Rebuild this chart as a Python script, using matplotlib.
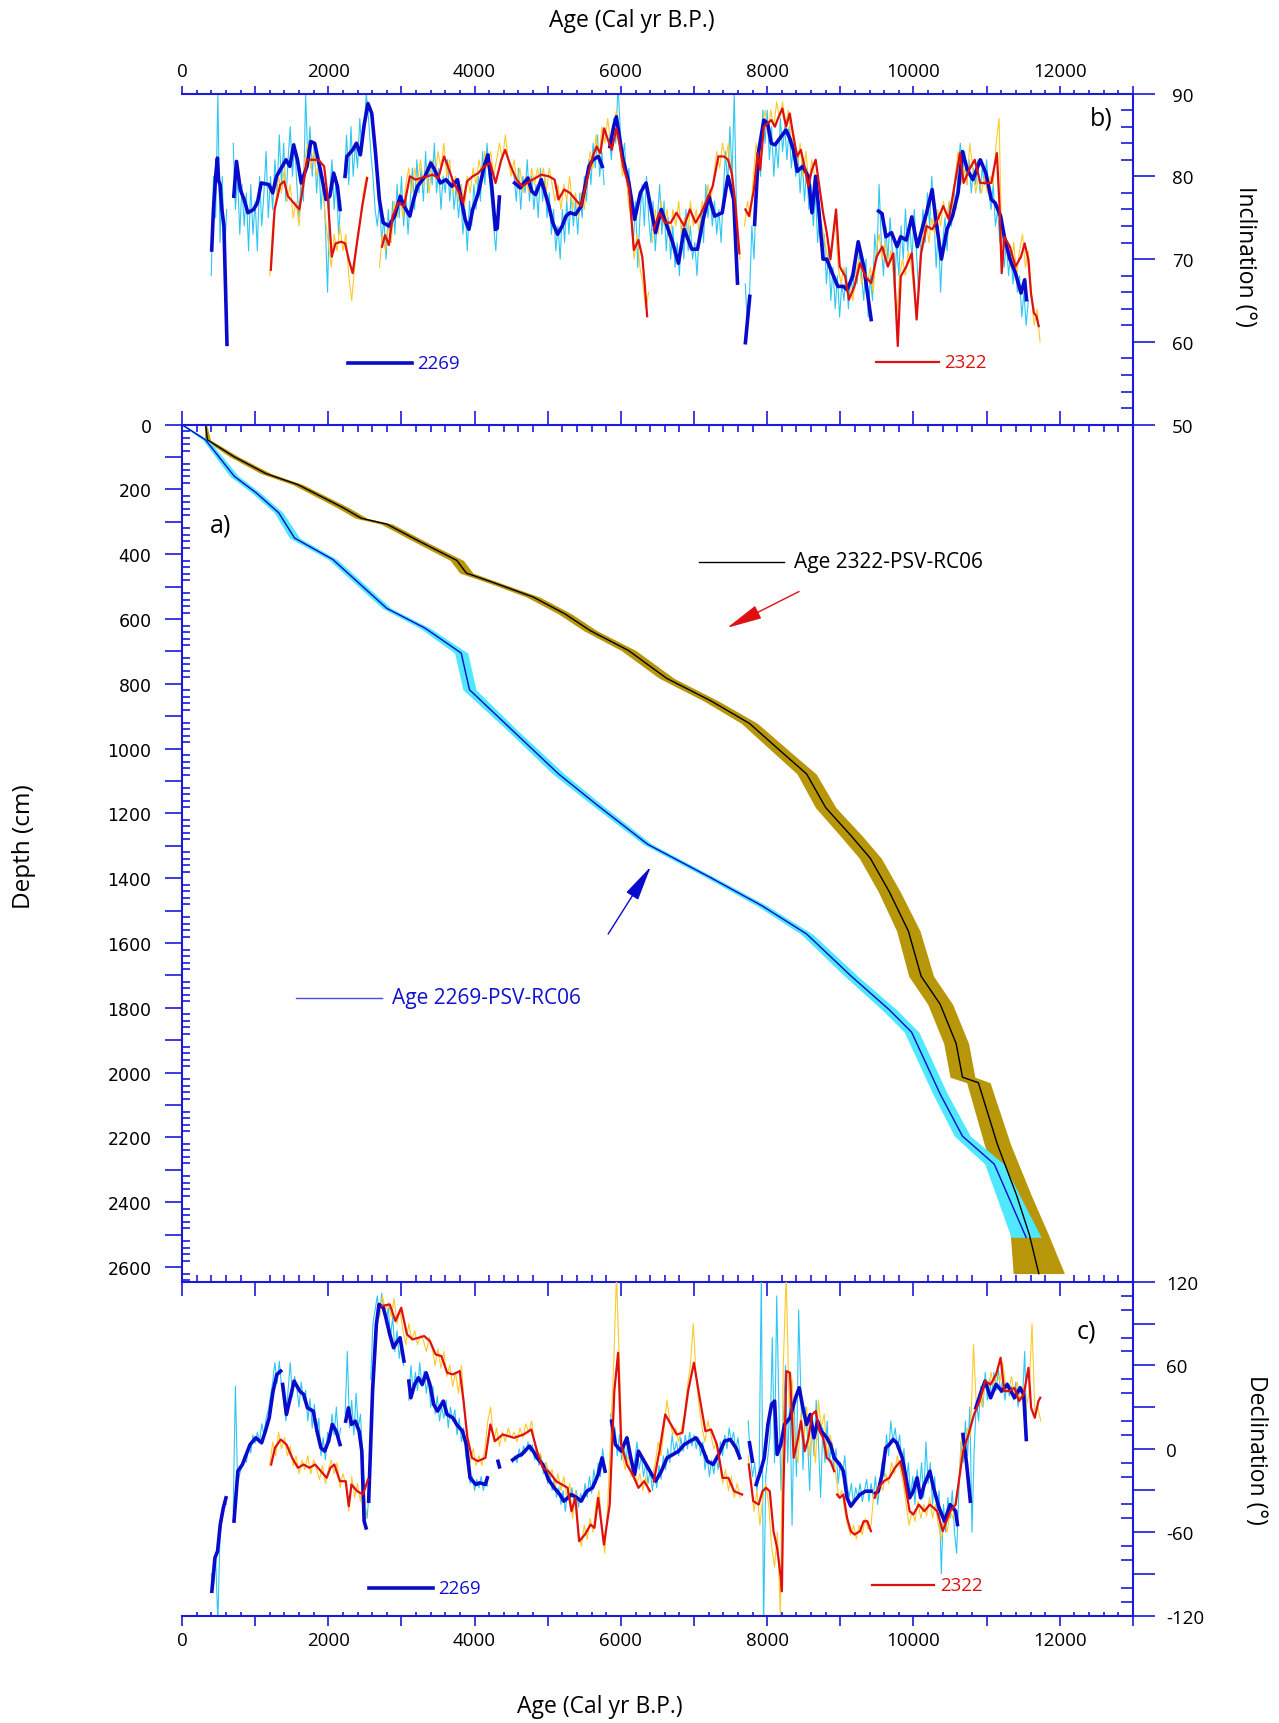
import numpy as np
import matplotlib
matplotlib.use("Agg")
import matplotlib.pyplot as plt
from matplotlib.ticker import MultipleLocator, FuncFormatter

# ---------------- data ----------------
# panel a: age-depth models (age yr BP, depth cm, half width of the band in yr)
depth_2269 = [0, 47, 159, 211, 272, 350, 416, 567, 628, 705, 818, 939, 1078, 1173, 1295, 1399,
              1485, 1572, 1702, 1806, 1875, 2066, 2196, 2282, 2508]
age_2269 = [0, 322, 713, 1017, 1322, 1539, 2061, 2800, 3322, 3817, 3930, 4496, 5148, 5670, 6365, 7235,
            7930, 8539, 9148, 9670, 9974, 10365, 10670, 11104, 11539]
err_2269 = [20, 40, 60, 60, 60, 70, 60, 60, 70, 90, 90, 70, 80, 70, 60, 60, 70, 80, 90, 100, 100,
            100, 110, 130, 205]

depth_2322 = [0, 47, 99, 151, 185, 255, 289, 307, 359, 419, 458, 489, 532, 584, 636, 697, 783, 853,
              922, 1009, 1078, 1182, 1269, 1338, 1442, 1563, 1702, 1789, 1910, 2014, 2031, 2222, 2378,
              2499, 2620]
age_2322 = [322, 348, 713, 1148, 1583, 2191, 2452, 2800, 3235, 3757, 3887, 4278, 4800, 5235, 5583,
            6104, 6626, 7235, 7757, 8191, 8539, 8800, 9148, 9409, 9670, 9930, 10104, 10365, 10583,
            10670, 10887, 11148, 11409, 11583, 11713]
err_2322 = [15, 40, 60, 70, 70, 80, 80, 80, 80, 90, 90, 80, 90, 90, 90, 100, 100, 100, 110, 120,
            130, 140, 150, 150, 150, 160, 170, 170, 170, 170, 160, 180, 200, 260, 350]

# panel b: inclination, smoothed 2269 (segments of (age, inc))
inc_2269_smooth = [
    [(406, 71.1), (430, 76), (460, 80), (484, 82.2), (500, 79.5), (520, 79), (545, 76), (573, 74), (590, 68), (615, 59.7)],
    [(708, 77.6), (745, 81.8), (797, 78.4), (849, 77.2), (901, 75.6), (979, 76), (1031, 76.8), (1083, 79.2), (1188, 79),
     (1240, 78), (1292, 80), (1370, 81.2), (1422, 82), (1474, 81.2), (1526, 83.8), (1578, 82), (1630, 79.2), (1708, 81.2),
     (1760, 84.2), (1813, 84), (1891, 80.8), (1969, 77.2), (2021, 77.6), (2073, 80.4), (2125, 78.8), (2161, 76)],
    [(2229, 80), (2255, 82.4), (2333, 83.2), (2385, 84), (2438, 82.6), (2490, 86.2), (2542, 88.8), (2594, 87.6), (2646, 82.8),
     (2698, 77.2), (2750, 74.4), (2828, 74), (2906, 75.2), (2984, 77.6), (3036, 76.4), (3115, 75.2), (3167, 77.2), (3219, 78.8),
     (3323, 80), (3401, 81.6), (3453, 80.8), (3531, 79.2), (3609, 79.6), (3688, 78.8), (3766, 79.6), (3818, 77.2), (3870, 74.8),
     (3922, 73.6), (3974, 76), (4052, 78), (4130, 81.2), (4182, 82.6), (4234, 78.8), (4286, 73.6)],
    [(4310, 73.8), (4339, 77.5)],
    [(4547, 79.2), (4625, 78.6), (4729, 79.8), (4781, 78.2), (4833, 77.8), (4911, 79.6), (4964, 78), (5016, 76.4), (5068, 74.4),
     (5135, 73), (5198, 74), (5250, 75.2), (5302, 75.6), (5380, 75.4), (5458, 76.4), (5510, 78.8), (5563, 81.2), (5615, 82),
     (5693, 82.4), (5745, 81.2)],
    [(5849, 83.6), (5901, 86), (5938, 87.2), (5979, 84.8), (6031, 82), (6109, 79.2), (6188, 74.8), (6266, 78), (6344, 79.2),
     (6396, 76.8), (6474, 73.2), (6552, 76), (6630, 74), (6708, 72), (6786, 69.5), (6865, 73.6), (6969, 71.2), (7047, 71.2),
     (7125, 74.8), (7203, 77.6), (7281, 75.2), (7385, 75.6), (7464, 80), (7542, 77.2), (7594, 67.1)],
    [(7702, 59.9), (7762, 65.5)],
    [(7828, 74.2), (7879, 82.8), (7954, 86.8), (8005, 86.4), (8056, 84), (8106, 83.8), (8157, 84.4), (8207, 85), (8258, 85.6),
     (8308, 84.6), (8359, 83.2), (8410, 80.6), (8485, 81.2), (8561, 80), (8612, 75.6), (8662, 80), (8713, 75.2), (8764, 70),
     (8814, 70), (8890, 68.3), (8966, 66.7), (9042, 66.7), (9092, 66.3), (9168, 67.9), (9244, 72.1), (9320, 69.1), (9370, 65.9),
     (9421, 62.7)],
    [(9522, 75.8), (9570, 75.5), (9623, 72.7), (9699, 73.2), (9775, 71.5), (9825, 72.7), (9901, 72.3), (9977, 75.1), (10053, 71.5),
     (10104, 73.2), (10179, 75.6), (10255, 78.4), (10306, 74.8), (10382, 70), (10458, 73.6), (10534, 75.2), (10609, 78),
     (10670, 83), (10736, 80.8), (10812, 79.6), (10913, 82), (10989, 80.4), (11064, 77.2), (11115, 76.8), (11191, 75.2),
     (11242, 72.7), (11318, 70), (11394, 68.3), (11470, 65.9), (11520, 67.5), (11545, 65.1)],
]

# panel b: inclination, smoothed 2322
inc_2322_smooth = [
    [(1214, 68.7), (1266, 76), (1344, 79), (1396, 79.4), (1448, 77.6), (1526, 76.8), (1604, 76), (1656, 78.8), (1708, 82),
     (1760, 82), (1865, 82), (1943, 81.2), (1995, 77.2), (2047, 70.3), (2099, 71.9), (2177, 72.1), (2229, 71.9), (2281, 69.9),
     (2333, 68.3), (2385, 71.5), (2464, 76.4), (2531, 79.8)],
    [(2734, 71.5), (2776, 72.9), (2828, 71.7), (2880, 75.2), (2958, 76.8), (3036, 76.4), (3115, 80), (3193, 79.6), (3271, 79.8),
     (3349, 80), (3427, 80.2), (3505, 79.8), (3583, 82.4), (3635, 81.2), (3714, 79.2), (3792, 78), (3844, 76.8), (3896, 79.4),
     (3974, 80), (4052, 80.4), (4130, 81.2), (4214, 81.6), (4286, 79.2), (4365, 82), (4417, 83.2), (4495, 81.2), (4573, 79.6),
     (4651, 78.8), (4755, 79.4), (4833, 79.8), (4911, 80.2), (5016, 80), (5094, 79.6), (5146, 77.2), (5224, 78.4), (5302, 78),
     (5380, 77.2), (5458, 76.4), (5536, 79.6), (5615, 82.4), (5667, 83.6), (5719, 82.8), (5771, 85.8), (5823, 84.4), (5875, 83.2),
     (5938, 85.8), (5979, 84), (6031, 81.2), (6109, 78.8), (6177, 71.1), (6240, 72.3), (6292, 70.3), (6328, 66.7), (6359, 63.1)],
    [(6448, 73.6), (6526, 75.6), (6604, 74.4), (6682, 74.4), (6760, 75.6), (6865, 74), (6943, 76), (7021, 74.4), (7099, 75.6),
     (7177, 77.2), (7255, 78.8), (7333, 82.4), (7411, 82.4), (7464, 82), (7516, 80.4), (7568, 76.4), (7620, 70.7)],
    [(7702, 76), (7752, 75.2), (7818, 78.4), (7869, 82.8), (7904, 80.8), (7954, 86), (8005, 86.4), (8056, 86.8), (8106, 86),
     (8157, 87.2), (8207, 88.2), (8258, 86), (8308, 87.6), (8359, 84.8), (8410, 82.4), (8460, 83.2), (8511, 81.2), (8561, 78.8),
     (8612, 80.8), (8662, 82), (8713, 78.8), (8764, 75.6), (8814, 73.2), (8865, 70), (8941, 76), (8991, 69.1), (9067, 67.9),
     (9117, 65.1), (9193, 66.7), (9269, 69.5), (9345, 67.9), (9421, 67.1), (9497, 70.3), (9573, 71.5), (9649, 69.1), (9724, 70.7),
     (9785, 59.5), (9826, 67.9), (9901, 69.1), (9977, 70.7), (10043, 62.7), (10104, 70.7), (10179, 74), (10255, 73.6),
     (10331, 74.8), (10407, 76.4), (10483, 74.8), (10559, 78.8), (10635, 82.8), (10685, 79.2), (10761, 80.8), (10837, 82),
     (10913, 79.2), (10989, 79.2), (11064, 79.2), (11140, 82.8), (11176, 76.4), (11206, 68.3), (11242, 72.7), (11318, 71.5),
     (11394, 69.1), (11470, 70.3), (11520, 71.9), (11571, 69.9), (11606, 65.9), (11646, 63.5), (11681, 63.1), (11712, 61.9)],
]

# panel b: raw inclination runs (start age, step, values)
inc_2269_raw = [
    (400, 30, [68, 80, 75, 90, 72, 80, 70, 76]),
    (700, 30, [84, 76, 80, 73, 79, 74, 78, 71, 79, 73, 77, 71, 80, 74, 78, 83, 75, 80, 76, 82,
               78, 85, 79, 84, 77, 82, 86, 80, 84, 79, 75, 80, 77, 90, 82, 86, 80, 84, 78, 82,
               76, 80, 74, 66, 78, 82, 76, 80, 73, 77]),
    (2220, 30, [80, 85, 79, 86, 80, 84, 81, 87, 83, 86, 90, 87, 83, 80, 76, 74, 77, 72, 75, 70,
                76, 72, 77, 73, 79, 75, 80, 74, 78, 73, 77, 81, 76, 82, 78, 81, 77, 83, 78, 82,
                79, 84, 78, 81, 76, 80, 78, 82, 77, 80, 76, 79, 75, 78, 73, 76, 71, 77, 74, 79,
                76, 80, 77, 83, 79, 84, 80, 77, 74, 71, 76]),
    (4540, 30, [80, 77, 81, 76, 80, 78, 82, 77, 80, 76, 79, 75, 81, 77, 80, 75, 78, 73, 76, 71,
                74, 70, 76, 72, 77, 73, 78, 74, 77, 73, 78, 75, 80, 77, 82, 79, 84, 81, 85, 80,
                83, 79]),
    (5840, 30, [85, 82, 87, 84, 91, 86, 82, 84, 79, 81, 76, 72, 77, 69, 75, 79, 74, 80, 75, 72,
                77, 71, 75, 79, 73, 77, 71, 75, 70, 74, 69, 72, 68, 74, 70, 76, 71, 74, 70, 72,
                68, 73, 76, 72, 79, 75, 78, 74, 77, 73, 76, 72, 78, 83, 79, 86, 80, 90, 76]),
    (7700, 30, [67, 62, 66, 74, 70, 78, 83, 80, 88, 84, 88, 82, 86, 80, 84, 81, 87, 83, 86, 82,
                86, 81, 84, 80, 83, 78, 82, 77, 81, 76, 79, 74, 78, 72, 76, 70, 73, 67, 71, 65,
                69, 64, 68, 63, 67, 65, 69, 64, 68, 66, 70, 67, 71, 68, 65, 70, 63, 68, 65, 73,
                70, 79, 72, 68, 74, 70, 75, 71, 66, 72, 68, 74, 70, 76, 71, 74, 70, 76, 71, 66,
                72, 76, 72, 78, 74, 80, 75, 69, 74, 66, 72, 75, 71, 77, 74, 79, 76, 81, 84, 80,
                83, 79, 82, 78, 81, 79, 82, 78, 81, 79, 82, 78, 76, 79, 74, 76, 72, 74, 69, 72,
                68, 71, 67, 70, 66, 68, 63, 66, 62, 65]),
]
inc_2322_raw = [
    (1200, 40, [68, 74, 77, 80, 78, 81, 77, 79, 75, 77, 74, 79, 82, 84, 81, 83, 80, 82, 79, 75,
                72, 69, 73, 71, 74, 71, 73, 68, 65, 69, 73, 75, 78, 80]),
    (2700, 40, [69, 73, 71, 74, 72, 77, 75, 78, 75, 79, 81, 78, 81, 79, 82, 79, 81, 78, 82, 80,
                83, 81, 84, 80, 82, 78, 80, 77, 79, 76, 80, 78, 81, 79, 82, 80, 83, 81, 83, 80,
                82, 84, 82, 85, 82, 80, 82, 79, 81, 78, 80, 78, 81, 79, 81, 79, 81, 78, 81, 79,
                77, 79, 76, 79, 77, 80, 76, 78, 75, 78, 76, 80, 83, 81, 85, 82, 86, 84, 87, 84,
                86, 88, 84, 80, 82, 77, 75, 70, 73, 69, 67, 64, 66]),
    (6430, 40, [72, 76, 73, 77, 74, 76, 72, 76, 74, 77, 73, 75, 72, 77, 74, 76, 73, 77, 75, 79,
                77, 80, 83, 81, 84, 82, 84, 80, 77, 72, 70]),
    (7690, 40, [74, 77, 75, 80, 84, 81, 86, 88, 85, 88, 86, 89, 87, 89, 86, 88, 84, 85, 81, 84,
                80, 83, 79, 82, 80, 78, 75, 73, 71, 69, 72, 75, 69, 67, 69, 66, 67, 65, 68, 70,
                67, 69, 67, 69, 66, 71, 73, 70, 72, 69, 71, 68, 63, 68, 70, 68, 71, 69, 66, 64,
                70, 73, 75, 72, 75, 73, 76, 74, 77, 75, 77, 76, 80, 83, 79, 81, 79, 84, 81, 78,
                80, 78, 80, 78, 80, 79, 84, 87, 70, 73, 71, 69, 72, 68, 71, 73, 69, 71, 66, 62,
                64, 60]),
]

# panel c: declination, smoothed 2269
dec_2269_smooth = [
    [(408, -102.5), (450, -78.5), (486, -73.7), (523, -54.5), (565, -42.5), (601, -35.3)],
    [(711, -52), (764, -16), (826, -11.3), (931, 3.1), (1009, 7.9), (1088, 4.3), (1140, 12.7), (1192, 22.3), (1245, 41.5),
     (1297, 53.5), (1349, 55.9)],
    [(1376, 46.3), (1428, 24.7), (1480, 36.7), (1532, 48.7), (1611, 41.5), (1663, 39.1), (1715, 29.5), (1794, 27.1),
     (1846, 12.7), (1899, 0.7), (1951, -1.7), (2003, 5.5), (2055, 17.5), (2108, 12.7), (2160, 3.1)],
    [(2238, 19.9), (2275, 29.5), (2317, 17.5), (2369, 19.9), (2421, 12.7), (2458, -1.7), (2490, -52), (2516, -56.9)],
    [(2552, -37.7), (2605, 41.5), (2657, 89.5), (2693, 103.9), (2751, 101.5), (2788, 94.3), (2840, 82.3), (2892, 72.7),
     (2945, 77.5), (2981, 79.9), (3034, 63.1)],
    [(3101, 48.7), (3128, 36.7), (3180, 46.3), (3232, 51.1), (3284, 46.3), (3337, 54.7), (3389, 46.3), (3441, 31.9),
     (3494, 27.1), (3572, 34.3), (3624, 24.7), (3703, 22.3), (3755, 17.5), (3834, 12.7), (3886, 3.1), (3938, -20.9),
     (4017, -25.7), (4069, -24.5), (4148, -25.7), (4174, -20.9)],
    [(4320, -9), (4340, -13)],
    [(4520, -8), (4600, -5), (4644, -4.1), (4749, 1.9), (4801, -1.7), (4854, -6.5), (4932, -11.3), (5010, -22.1),
     (5089, -28.1), (5167, -32.9), (5220, -37.7), (5324, -32.9), (5402, -35.3), (5455, -37.7), (5533, -30.5), (5611, -28.1),
     (5690, -18.5), (5742, -6.5), (5784, -16.1)],
    [(5873, 19.9), (5925, 3.1), (6004, -1.7), (6082, 7.9), (6135, -6.5), (6187, -18.5), (6240, -1.7), (6318, -8.9),
     (6397, -16.1), (6475, -23.3), (6553, -16.1), (6632, -6.5), (6710, -4.1), (6789, -1.7), (6867, 3.1), (6946, 5.5),
     (7024, 7.9), (7103, 1.9), (7181, -8.9), (7260, -11.3), (7338, -4.1), (7416, 5.5), (7495, 6.7), (7573, 0.7), (7625, -6.5)],
    [(7758, 4.3), (7799, -8.9)],
    [(7849, -25.7), (7909, -16.1), (7960, -6.5), (8010, 17.5), (8060, 31.9), (8101, 34.3), (8136, -4.1), (8186, 3.1),
     (8237, 17.5), (8312, 22.3), (8387, 36.7), (8438, 43.9), (8488, 29.5), (8538, 17.5), (8589, 24.7), (8639, 7.9),
     (8689, 19.9), (8740, 12.7), (8815, 7.9), (8866, 3.1), (8916, -6.5), (8991, -11.3), (9042, -16.1), (9092, -35.3),
     (9143, -41.3), (9193, -37.7), (9268, -32.9), (9344, -30.5), (9419, -30.5)],
    [(9480, -32), (9519, -30.5), (9570, -18.5), (9620, 0.7), (9670, 3.1), (9721, 6.7), (9771, 4.3), (9847, -6.5),
     (9897, -20.9), (9947, -35.3), (9998, -30.5), (10048, -20.9), (10098, -35.3), (10148, -25.7), (10224, -16.1),
     (10274, -28.1), (10350, -42.5), (10425, -52.1), (10501, -40.1), (10576, -44.9), (10601, -54.5)],
    [(10677, 10.3), (10727, -11.3), (10777, -37.7)],
    [(10853, 29.5), (10928, 41.5), (10979, 48.7), (11054, 36.7), (11130, 46.3), (11206, 41.5), (11281, 46.3),
     (11381, 36.7), (11457, 43.9), (11507, 39.1), (11542, 6.7)],
]

# panel c: declination, smoothed 2322
dec_2322_smooth = [
    [(1219, -11.3), (1271, 0.7), (1349, 6.7), (1428, 3.1), (1506, -6.5), (1585, -13.7), (1663, -11.3), (1741, -13.7),
     (1820, -11.3), (1899, -16.1), (1977, -20.9), (2029, -13.7), (2082, -11.3), (2160, -23.3), (2238, -23.3), (2280, -41.3),
     (2317, -25.7), (2395, -30.5), (2474, -32.9), (2542, -22.1)],
    [(2735, 102.7), (2840, 103.9), (2918, 91.9), (2997, 101.5), (3075, 82.3), (3154, 78.7), (3232, 79.9), (3311, 81.1),
     (3389, 77.5), (3467, 67.9), (3546, 66.7), (3625, 54.7), (3703, 53.5), (3797, 55.9), (3849, 34.3), (3902, 7.9),
     (3964, -6.5), (4043, -8.9), (4148, -6.5), (4216, 17.5), (4278, 5.5), (4383, 10.3), (4540, 7.9), (4670, 10.3),
     (4775, 13.9), (4854, -1.7), (4932, -13.7), (5010, -16.1), (5115, -23.3), (5193, -25.7), (5272, -28.1), (5324, -44.9),
     (5377, -35.3), (5429, -66.5), (5508, -61.7), (5586, -54.5), (5638, -56.9), (5690, -35.3), (5768, -68.9), (5847, -40.1),
     (5910, 41.5), (5962, 69.1), (6004, 3.1), (6082, -11.3), (6161, -18.5), (6240, -28.1), (6318, -23.3), (6397, -30.5)],
    [(6449, -23.3), (6527, -1.7), (6606, 24.7), (6684, 17.5), (6763, 10.3), (6841, 11.5), (6919, 41.5), (6998, 61.9),
     (7077, 36.7), (7155, 12.7), (7233, 13.9), (7312, 3.1), (7390, -20.9), (7469, -20.9), (7547, -30.5), (7658, -32.9)],
    [(7748, -11.3), (7809, -37.7), (7884, -40.1), (7935, -30.5), (7985, -28.1), (8035, -30.5), (8086, -59.3), (8136, -71.3),
     (8186, -92.9), (8201, -102.5), (8221, -30.5), (8262, 55.9), (8312, 54.7), (8362, -6.5), (8413, 5.5), (8463, 19.9),
     (8513, -1.7), (8564, 7.9), (8614, 24.7), (8664, 27.1), (8715, 12.7), (8765, 7.9), (8815, -6.5), (8866, -8.9), (8916, -16.1)],
    [(8956, -32.9), (8991, -35.3), (9042, -32.9), (9092, -49.7), (9143, -59.3), (9193, -61.7), (9268, -59.3), (9319, -52.1),
     (9369, -52.1), (9419, -59.3)],
    [(9469, -35.3), (9519, -28.1), (9595, -23.3), (9670, -20.9), (9746, -13.7), (9821, -8.9), (9871, -20.9), (9947, -44.9),
     (9998, -47.3), (10073, -40.1), (10148, -44.9), (10224, -40.1), (10324, -44.9), (10400, -59.3), (10450, -52.1),
     (10501, -44.9), (10576, -40.1), (10626, -20.9), (10677, -1.7), (10752, 10.3), (10828, 24.7), (10903, 34.3),
     (10979, 48.7), (11054, 46.3), (11130, 53.5), (11191, 65.5), (11241, 41.5), (11306, 41.5), (11381, 43.9), (11442, 34.3),
     (11507, 39.1), (11572, 58.3), (11608, 29.5), (11658, 22.3), (11708, 34.3), (11733, 36.7)],
]

# panel c: raw declination runs (start age, step, values)
dec_2269_raw = [
    (400, 30, [-90, -100, -78, -125, -62, -48, -38, -40]),
    (700, 30, [-45, 45, -25, -18, -12, -5, -10, 2, -3, 10, 4, 12, 5, 18, 10, 22, 28, 38, 48, 62,
               47, 63, 45, 34, 20, 42, 62, 38, 52, 44, 30, 48, 35, 42, 20, 36, 15, 32, 10, 22,
               -5, 8, -8, 12, 5, 25, 10, 30, 5, 15]),
    (2230, 30, [25, 70, 15, 35, 10, 40, 15, 25, -5, -40, -50, -30]),
    (2580, 30, [50, 90, 100, 110, 95, 112, 100, 90, 102, 80, 95, 70, 85, 65, 78, 60]),
    (3100, 30, [35, 60, 40, 55, 42, 62, 45, 56, 40, 52, 30, 45, 25, 38, 20, 30, 22, 35, 15, 30,
                20, 28, 10, 22, 5, 15, -5, -15, -25, -20, -30, -22, -28, -20, -30, -22, -27]),
    (4520, 30, [-10, -5, -10, 0, -6, 2, -3, 5, -2, 3, -8, 0, -12, -5, -18, -10, -25, -18, -30, -22,
                -35, -28, -40, -30, -45, -32, -38, -28, -40, -30, -42, -32, -38, -25, -35, -20, -32,
                -15, -25, -10, -20, 0, -12]),
    (5860, 30, [25, 5, 15, -5, 10, -8, 5, -10, 8, -5, -20, -8, 5, -15, -5, -20, -10, -25, -15, -30,
                -18, -28, -12, -22, -5, -15, 0, -10, 10, -2, 5, -5, 8, -2, 10, 0, 12, 2, 10, 0,
                8, -5, 5, -15, -5, -20, -8, -18, -5, -15, 5, -5, 10, 0, 15, 5, 12, -2, 8, -5]),
    (7740, 30, [20, -5, -20, -10, -30, -15, 125, -130, -20, -5, 10, 80, -10, 110, 30, -30, 20, 60, -10, 40,
                -55, 30, -20, 100, 40, -15, 30, 10, -30, 20, -5, 35, 5, -35, 15, -10, 20, -10, 5, -15,
                0, -25, -10, -20, -5, -25, -35, -25, -40, -28, -35, -25, -38, -30, -22, -38, -25, -35, -20, -40,
                -25, -10, -20, 10, -5, 20, 5, 15, 0, 10, -10, 0, -25, -10, -35, -20, -40, -15, -30, -10,
                -35, 5, -25, -10, -40, -20, -45, -30, -90, -40, -60, -35, -50, -30, -60, -75, -30, 5, -10, 20,
                -5, 30, -60, 0, 35, 20, 45, 30, 55, 35, 50, 38, 55, 42, 58, 40, 50, 35, 48, 38,
                45, 35, 48, 30, 45, 35, 70, 10]),
]
dec_2322_raw = [
    (1200, 40, [-12, 5, -5, 12, 0, 8, -5, 2, -12, -5, -18, -8, -15, -5, -18, -8, -15, -22, -12, -25,
                -15, -8, -18, -10, -28, -18, -25, -45, -20, -35, -25, -38, -20, -50]),
    (2700, 40, [95, 110, 100, 105, 95, 108, 90, 100, 85, 75, 90, 78, 85, 75, 82, 78, 70, 80, 72, 60,
                72, 58, 70, 52, 60, 45, 55, 40, 60, 30, 5, -10, 0, -12, -5, -12, 0, 20, 30, 5,
                15, 2, 12, 5, 15, 8, 12, 5, 15, 8, 18, 12, 20, 5, -8, -3, -15, -10, -20, -15,
                -28, -18, -30, -20, -35, -25, -50, -30, -60, -70, -55, -65, -50, -60, -40, -30, -55, -75, -40, 10,
                60, 125, 60, -5, -15, -5, -20, -12, -25, -18, -30, -20, -32]),
    (6430, 40, [-20, -10, 5, -5, 15, 35, 20, 10, 15, 5, 15, 25, 45, 60, 90, 50, 30, 15, 5, 20,
                10, 0, 5, -10, -25, -15, -30, -20, -35, -25, -35]),
    (7740, 40, [-5, -25, -45, -30, -55, -35, -25, -40, -70, -85, -60, -120, 60, 125, 30, 50, 0, -10, 25, 5,
                30, -5, 15, -10, 35, 15, 25, -5, 10, 0, -20, -35, -30, -45, -55, -62, -55, -65, -55, -62,
                -50, -58, -55, -30, -35, -25, -30, -18, -25, -10, -18, -5, -15, -25, -40, -55, -45, -52, -38, -50,
                -40, -48, -35, -50, -40, -55, -65, -50, -60, -45, -50, -35, -25, 10, -5, 15, 10, 75, 30, 40,
                30, 50, 40, 55, 45, 55, 48, 62, 45, 40, 52, 38, 48, 35, 45, 30, 40, 90, 25, 30,
                20]),
]

# ---------------- style ----------------
plt.rcParams['font.family'] = ['Open Sans', 'DejaVu Sans']
AX = '#1A1ADB'
C_BLUE = '#0A0ACC'
C_CYAN = '#2EC6F2'
C_RED = '#E01010'
C_YEL = '#FFC928'
C_GOLD = '#B8960A'
C_CYBAND = '#50E8FF'
T_BLUE = '#1010D0'
ARROW = '-|>,head_length=1.1,head_width=0.22'


def seg_xy(segs):
    xs, ys = [], []
    for s in segs:
        for a, v in s:
            xs.append(a)
            ys.append(v)
        xs.append(np.nan)
        ys.append(np.nan)
    return np.array(xs), np.array(ys)


def run_xy(runs):
    xs, ys = [], []
    for start, step, vals in runs:
        xs += [start + i * step for i in range(len(vals))]
        ys += list(vals)
        xs.append(np.nan)
        ys.append(np.nan)
    return np.array(xs, float), np.array(ys, float)


def two_k_labels(v, pos):
    v = int(round(v))
    return str(v) if v % 2000 == 0 and 0 <= v <= 12000 else ''


fig = plt.figure(figsize=(12.79, 17.24), dpi=100)
L, W = 0.1423, 0.7435
ax_b = fig.add_axes([L, 0.7531, W, 0.19205])
ax_a = fig.add_axes([L, 0.2558, W, 0.4973])
ax_c = fig.add_axes([L, 0.0623, W, 0.1935])

for ax in (ax_a, ax_b, ax_c):
    ax.set_xlim(0, 13000)
    ax.set_facecolor('none')
    for sp in ax.spines.values():
        sp.set_color(AX)
        sp.set_linewidth(1.5)

# ---- panel b ----
ax_b.spines['left'].set_visible(False)
ax_b.spines['bottom'].set_visible(False)
x, y = run_xy(inc_2269_raw)
ax_b.plot(x, y, color=C_CYAN, lw=0.8)
x, y = run_xy(inc_2322_raw)
ax_b.plot(x, y, color=C_YEL, lw=0.8)
x, y = seg_xy(inc_2269_smooth)
ax_b.plot(x, y, color=C_BLUE, lw=2.6)
x, y = seg_xy(inc_2322_smooth)
ax_b.plot(x, y, color=C_RED, lw=1.6)
ax_b.set_ylim(50, 90)
ax_b.xaxis.set_major_locator(MultipleLocator(1000))
ax_b.xaxis.set_minor_locator(MultipleLocator(200))
ax_b.xaxis.set_major_formatter(FuncFormatter(two_k_labels))
ax_b.tick_params(axis='x', which='both', top=True, bottom=False, labeltop=True, labelbottom=False,
                 direction='out', color=AX, width=1.2, labelsize=13.5, pad=4)
ax_b.tick_params(axis='x', which='major', length=6)
ax_b.tick_params(axis='x', which='minor', length=3)
ax_b.yaxis.set_major_locator(MultipleLocator(10))
ax_b.yaxis.set_minor_locator(MultipleLocator(2))
ax_b.tick_params(axis='y', which='both', left=False, right=True, labelleft=False, labelright=True,
                 color=AX, width=1.2, labelsize=13.5)
ax_b.tick_params(axis='y', which='major', direction='out', length=16, pad=12)
ax_b.tick_params(axis='y', which='minor', direction='in', length=9)
ax_b.plot([2271, 3141], [57.4, 57.4], color=C_BLUE, lw=2.6)
ax_b.text(3208, 57.4, '2269', color=T_BLUE, fontsize=13.5, va='center', ha='left')
ax_b.plot([9487, 10346], [57.6, 57.6], color=C_RED, lw=1.6)
ax_b.text(10417, 57.6, '2322', color=C_RED, fontsize=13.5, va='center', ha='left')
ax_b.text(12570, 87.0, 'b)', fontsize=18, va='center', ha='center')

# ---- panel a ----
d1 = np.array(depth_2269, float)
a1 = np.array(age_2269, float)
e1 = np.array(err_2269, float)
d2 = np.array(depth_2322, float)
a2 = np.array(age_2322, float)
e2 = np.array(err_2322, float)
ax_a.fill_betweenx(d2, a2 - e2, a2 + e2, color=C_GOLD, lw=0)
ax_a.fill_betweenx(d1, a1 - e1, a1 + e1, color=C_CYBAND, lw=0)
ax_a.plot(a2, d2, color='black', lw=1.0)
ax_a.plot(a1, d1, color=C_BLUE, lw=1.0)
ax_a.set_ylim(2646, 0)
ax_a.xaxis.set_major_locator(MultipleLocator(1000))
ax_a.xaxis.set_minor_locator(MultipleLocator(200))
ax_a.tick_params(axis='x', which='both', top=True, bottom=True, labeltop=False, labelbottom=False,
                 color=AX, width=1.2)
ax_a.tick_params(axis='x', which='major', direction='out', length=10)
ax_a.tick_params(axis='x', which='minor', direction='in', length=5)
ax_a.yaxis.set_major_locator(MultipleLocator(100))
ax_a.yaxis.set_minor_locator(MultipleLocator(20))
ax_a.yaxis.set_major_formatter(FuncFormatter(lambda v, p: str(int(v)) if int(round(v)) % 200 == 0 else ''))
ax_a.tick_params(axis='y', which='both', left=True, right=False, color=AX, width=1.2)
ax_a.tick_params(axis='y', which='major', direction='out', length=12, pad=10)
ax_a.tick_params(axis='y', which='minor', direction='in', length=6)
for lab in ax_a.get_yticklabels():
    lab.set_family('DejaVu Sans')
    lab.set_fontsize(12.5)
ax_a.text(522, 310, 'a)', fontsize=18, va='center', ha='center')
ax_a.plot([7061, 8235], [423, 423], color='black', lw=1.0)
ax_a.text(8365, 423, 'Age 2322-PSV-RC06', fontsize=15, va='center', ha='left')
ax_a.plot([1565, 2730], [1768, 1768], color='#4A4AE8', lw=1.0)
ax_a.text(2870, 1768, 'Age 2269-PSV-RC06', fontsize=15, va='center', ha='left', color=T_BLUE)
ax_a.annotate('', xy=(7452, 627), xytext=(8435, 515),
              arrowprops=dict(arrowstyle=ARROW, color=C_RED, lw=1.0,
                              shrinkA=0, shrinkB=0, mutation_scale=20))
ax_a.annotate('', xy=(6409, 1364), xytext=(5826, 1572),
              arrowprops=dict(arrowstyle=ARROW, color=C_BLUE, lw=1.0,
                              shrinkA=0, shrinkB=0, mutation_scale=20))

# ---- panel c ----
ax_c.spines['left'].set_visible(False)
ax_c.spines['top'].set_visible(False)
x, y = run_xy(dec_2269_raw)
ax_c.plot(x, y, color=C_CYAN, lw=0.8)
x, y = run_xy(dec_2322_raw)
ax_c.plot(x, y, color=C_YEL, lw=0.8)
x, y = seg_xy(dec_2269_smooth)
ax_c.plot(x, y, color=C_BLUE, lw=2.6)
x, y = seg_xy(dec_2322_smooth)
ax_c.plot(x, y, color=C_RED, lw=1.6)
ax_c.set_ylim(-120, 120)
ax_c.xaxis.set_major_locator(MultipleLocator(1000))
ax_c.xaxis.set_minor_locator(MultipleLocator(200))
ax_c.xaxis.set_major_formatter(FuncFormatter(two_k_labels))
ax_c.tick_params(axis='x', which='both', top=False, bottom=True, color=AX, width=1.2, labelsize=13.5)
ax_c.tick_params(axis='x', which='major', direction='out', length=7, pad=4)
ax_c.tick_params(axis='x', which='minor', direction='in', length=3)
ax_c.yaxis.set_major_locator(MultipleLocator(30))
ax_c.yaxis.set_minor_locator(MultipleLocator(10))
ax_c.yaxis.set_major_formatter(FuncFormatter(lambda v, p: str(int(v)) if int(round(v)) % 60 == 0 else ''))
ax_c.tick_params(axis='y', which='both', left=False, right=True, labelleft=False, labelright=True,
                 color=AX, width=1.2, labelsize=13.5)
ax_c.tick_params(axis='y', which='major', direction='out', length=16, pad=8)
ax_c.tick_params(axis='y', which='minor', direction='in', length=9)
ax_c.plot([2563, 3431], [-100.1, -100.1], color=C_BLUE, lw=2.6)
ax_c.text(3504, -100.1, '2269', color=T_BLUE, fontsize=13.5, va='center', ha='left')
ax_c.plot([9429, 10284], [-98.2, -98.2], color=C_RED, lw=1.6)
ax_c.text(10365, -98.2, '2322', color=C_RED, fontsize=13.5, va='center', ha='left')
ax_c.text(12360, 84.7, 'c)', fontsize=18, va='center', ha='center')

# ---- axis titles ----
fig.text(0.494, 0.988, 'Age (Cal yr B.P.)', fontsize=16.5, ha='center', va='center')
fig.text(0.469, 0.0099, 'Age (Cal yr B.P.)', fontsize=16.5, ha='center', va='center')
fig.text(0.019, 0.509, 'Depth (cm)', fontsize=17.5, rotation=90, ha='center', va='center')
fig.text(0.9734, 0.8515, 'Inclination (°)', fontsize=16.5, rotation=-90, ha='center', va='center')
fig.text(0.982, 0.159, 'Declination (°)', fontsize=16.5, rotation=-90, ha='center', va='center')

fig.savefig('out.png', dpi=100)
